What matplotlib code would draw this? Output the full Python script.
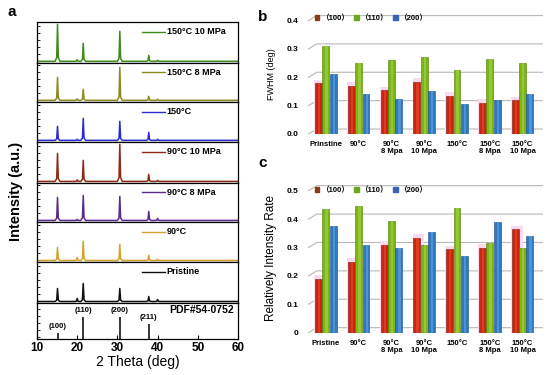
import matplotlib
matplotlib.use('Agg')
import matplotlib.pyplot as plt
from matplotlib.patches import Patch
import numpy as np

plt.rcParams['font.family'] = ['Liberation Sans', 'Noto Sans CJK SC', 'DejaVu Sans']
plt.rcParams['font.weight'] = 'bold'

# ---- panel a: XRD peaks (2 theta) and their heights above baseline, top to bottom
peak_pos = [15.1, 20.0, 21.5, 30.6, 37.8, 40.0]
xrd_samples = ['150°C 10 MPa', '150°C 8 MPa', '150°C', '90°C 10 MPa',
               '90°C 8 MPa', '90°C', 'Pristine']
xrd_colors = ['#3f8a1c', '#8c8a1e', '#2a2ad0', '#8a2c17', '#5a2a8c', '#d4a22a', '#111111']
h_150_10 = [37, 1.5, 18, 30, 6, 1]
h_150_8 = [23, 1.5, 11, 33, 4, 1]
h_150 = [14, 1, 22, 19, 8, 1]
h_90_10 = [28, 1.5, 21, 37, 7, 1]
h_90_8 = [23, 1, 25, 24, 9, 2]
h_90 = [13, 3, 19, 16, 5, 1]
h_pristine = [13, 3, 18, 13, 5, 2]
xrd_heights = [h_150_10, h_150_8, h_150, h_90_10, h_90_8, h_90, h_pristine]

pdf_pos = [15.1, 21.5, 30.6, 37.8]
pdf_height = [6, 21.5, 21.5, 15]
pdf_hkl = ['(100)', '(110)', '(200)', '(211)']

# ---- panels b and c
groups_b = ['Prinstine', '90°C', '90°C\n8 Mpa', '90°C\n10 Mpa', '150°C',
            '150°C\n8 Mpa', '150°C\n10 Mpa']
groups_c = ['Pristine', '90°C', '90°C\n8 Mpa', '90°C\n10 Mpa', '150°C',
            '150°C\n8 Mpa', '150°C\n10 Mpa']
fwhm_100 = [0.18, 0.17, 0.155, 0.185, 0.135, 0.11, 0.12]
fwhm_110 = [0.31, 0.25, 0.26, 0.27, 0.225, 0.265, 0.25]
fwhm_200 = [0.21, 0.14, 0.125, 0.15, 0.105, 0.12, 0.14]
rate_100 = [0.19, 0.25, 0.31, 0.335, 0.295, 0.30, 0.365]
rate_110 = [0.435, 0.445, 0.395, 0.31, 0.44, 0.315, 0.30]
rate_200 = [0.375, 0.31, 0.30, 0.355, 0.27, 0.39, 0.34]
hkl_legend = ['（100）', '（110）', '（200）']


def profile(heights):
    xs, ys = [10.0], [0.0]
    for p, h in zip(peak_pos, heights):
        xs += [p - 0.6, p - 0.2, p, p + 0.2, p + 0.6]
        ys += [0, 0.1 * h, h, 0.1 * h, 0]
    xs.append(60.0)
    ys.append(0.0)
    return xs, ys


fig = plt.figure(figsize=(5.5, 3.75), dpi=100)

ratios = [41, 39, 40, 41, 39, 40, 41, 36]
gs = fig.add_gridspec(8, 1, left=0.0673, right=0.4327, top=0.942, bottom=0.096,
                      hspace=0, height_ratios=ratios)
axes_a = [fig.add_subplot(gs[i]) for i in range(8)]
for i, ax in enumerate(axes_a):
    ax.set_xlim(10, 60)
    ax.set_ylim(-1.5, ratios[i] - 1.5)
    ax.set_yticks(np.arange(0, ratios[i] - 2, 7))
    ax.tick_params(axis='y', direction='in', length=2, width=0.6, labelleft=False)
    ax.set_xticks(range(10, 61, 10))
    for s in ax.spines.values():
        s.set_linewidth(0.9)
    if i < 7:
        ax.tick_params(axis='x', length=0, labelbottom=False)
        xs, ys = profile(xrd_heights[i])
        ax.plot(xs, ys, color=xrd_colors[i], lw=1.1)
        ax.plot([36, 41.8], [ratios[i] * 0.72] * 2, color=xrd_colors[i], lw=1.0)
        ax.text(42.3, ratios[i] * 0.72, xrd_samples[i], fontsize=6.5,
                va='center', ha='left')
    else:
        ax.tick_params(axis='x', direction='in', length=3, labelsize=8.5, pad=2)
        ax.vlines(pdf_pos, 0 - 1.5, np.array(pdf_height) - 1.5, color='black', lw=1.1)
        for p, h, lab in zip(pdf_pos, pdf_height, pdf_hkl):
            ax.text(p, h + 1.5, lab, fontsize=5.5, ha='center', va='bottom')
        ax.text(59, 27, 'PDF#54-0752', fontsize=7.5, ha='right', va='center')
        ax.set_xlabel('2 Theta (deg)', fontsize=10, labelpad=1)

fig.text(0.029, 0.49, 'Intensity (a.u.)', rotation=90, fontsize=10.5,
         ha='center', va='center')
fig.text(0.022, 0.968, 'a', fontsize=11, ha='center', va='center')
fig.text(0.478, 0.955, 'b', fontsize=11, ha='center', va='center')
fig.text(0.478, 0.565, 'c', fontsize=11, ha='center', va='center')

bar_styles = [('#c8260f', '#ef4a2c', '#7a1505', '#8b3a12'),
              ('#7cb518', '#a8d840', '#4f7a0c', '#6fa51a'),
              ('#2f78c0', '#62a8e2', '#1c4f8a', '#3b63b5')]


def bar_panel(ax, labels, series, ymax, tick_vals, tick_text, tick_fs, label_pad):
    x = np.arange(len(labels))
    w = 0.21
    offs = [-0.225, 0.0, 0.225]
    lift = 0.0177
    xl, xr = -0.58, 6.62
    for v in tick_vals:
        ax.plot([xl + 0.05, xl + 0.3, xr], [v, v + lift, v + lift],
                color='#b8b8b8', lw=0.8, zorder=1)
    ax.bar(x + offs[0] + 0.05, np.array(series[0]) + 0.012, 0.36,
           color='#fbd9f0', zorder=2)
    for vals, dx, (c, hi, ed, _) in zip(series, offs, bar_styles):
        ax.bar(x + dx, vals, w, color=c, edgecolor=ed, linewidth=0.4, zorder=3)
        ax.bar(x + dx + 0.02, vals, w * 0.35, color=hi, linewidth=0,
               alpha=0.6, zorder=4)
    ax.set_xlim(xl, xr)
    ax.set_ylim(0, ymax)
    ax.set_yticks(tick_vals)
    ax.set_yticklabels(tick_text)
    ax.set_xticks(x)
    ax.set_xticklabels(labels, fontsize=5.5, linespacing=1.1)
    ax.tick_params(axis='both', length=0)
    ax.tick_params(axis='y', labelsize=tick_fs, pad=6)
    ax.tick_params(axis='x', pad=label_pad)
    for s in ax.spines.values():
        s.set_visible(False)
    handles = [Patch(color=st[3]) for st in bar_styles]
    ax.legend(handles, hkl_legend, ncol=3, loc='center left',
              bbox_to_anchor=(0.02, 0.955), frameon=False, fontsize=5.5,
              handlelength=0.6, handleheight=0.6, handletextpad=0.3,
              columnspacing=0.6, borderaxespad=0)


ax_b = fig.add_axes([0.558, 0.6427, 0.429, 0.3213])
bar_panel(ax_b, groups_b, [fwhm_100, fwhm_110, fwhm_200], 0.425,
          [0.0, 0.1, 0.2, 0.3, 0.4], ['0.0', '0.1', '0.2', '0.3', '0.4'], 6, 5)
ax_b.set_ylabel('FWHM (deg)', fontsize=6.5, labelpad=8)

ax_c = fig.add_axes([0.558, 0.1128, 0.429, 0.3976])
bar_panel(ax_c, groups_c, [rate_100, rate_110, rate_200], 0.525,
          [0.0, 0.1, 0.2, 0.3, 0.4, 0.5], ['0', '0.1', '0.2', '0.3', '0.4', '0.5'], 6, 5)
ax_c.set_ylabel('Relatively Intensity Rate', fontsize=8.5, labelpad=7)

fig.savefig('out.png', dpi=100)
